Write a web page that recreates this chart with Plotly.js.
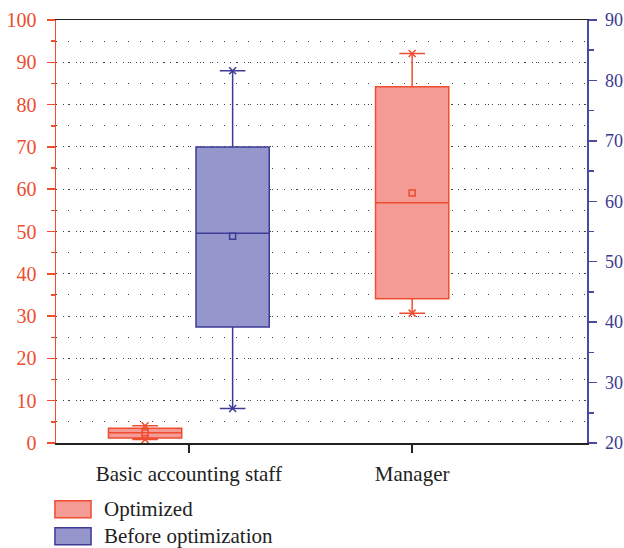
<!DOCTYPE html>
<html><head><meta charset="utf-8">
<script src="https://cdn.plot.ly/plotly-3.0.1.min.js"></script>
<style>html,body{margin:0;padding:0;background:#fff}</style>
</head><body><div id="chart" style="width:624px;height:548px"></div>
<script>
const categories = ['Basic accounting staff', 'Manager'];
const seriesNames = ['Optimized', 'Before optimization'];
// Optimized (left axis), one value per category
const optLower = [0.8, 30.7];
const optQ1 = [1.2, 34.1];
const optMedian = [2.4, 56.8];
const optQ3 = [3.5, 84.2];
const optUpper = [4.1, 92.1];
const optMean = [2.4, 59.1];
// Before optimization (right axis), Basic accounting staff only
const befLower = [25.7];
const befQ1 = [39.2];
const befMedian = [54.7];
const befQ3 = [69.0];
const befUpper = [81.6];
const befMean = [54.2];
const leftTicks = [0, 10, 20, 30, 40, 50, 60, 70, 80, 90, 100];
const rightTicks = [20, 30, 40, 50, 60, 70, 80, 90];

const RED = '#ee4d30', RED_FILL = '#f59b96';
const BLUE = '#3e3b96', BLUE_FILL = '#9596cc';
const FONT = 'Liberation Serif, Times New Roman, serif';
const soloWidth = 0.328;

function boxTrace(ci, q1, med, q3, lo, up, yaxis, color, fill, group, width) {
  const t = {
    type: 'box', x: [categories[ci]], q1: [q1], median: [med], q3: [q3],
    lowerfence: [lo], upperfence: [up], yaxis: yaxis,
    fillcolor: fill, line: {color: color, width: 1.5}, whiskerwidth: 0.35,
    boxpoints: false, offsetgroup: group, alignmentgroup: 'g', showlegend: false, hoverinfo: 'skip'
  };
  if (width) t.width = width;
  return t;
}
function markTrace(ci, vals, yaxis, color, symbol, size, group, width) {
  const t = {
    type: 'box', x: vals.map(() => categories[ci]), y: vals, yaxis: yaxis,
    boxpoints: 'all', jitter: 0, pointpos: 0,
    fillcolor: 'rgba(0,0,0,0)', line: {color: 'rgba(0,0,0,0)', width: 0}, whiskerwidth: 0,
    marker: {symbol: symbol, size: size, color: color, line: {color: color, width: 1.5}},
    offsetgroup: group, alignmentgroup: 'g', showlegend: false, hoverinfo: 'skip'
  };
  if (width) t.width = width;
  return t;
}

const data = [
  boxTrace(0, optQ1[0], optMedian[0], optQ3[0], optLower[0], optUpper[0], 'y', RED, RED_FILL, 'opt'),
  boxTrace(0, befQ1[0], befMedian[0], befQ3[0], befLower[0], befUpper[0], 'y2', BLUE, BLUE_FILL, 'bef'),
  boxTrace(1, optQ1[1], optMedian[1], optQ3[1], optLower[1], optUpper[1], 'y', RED, RED_FILL, 'opt', soloWidth),
  markTrace(0, [optLower[0], optUpper[0]], 'y', RED, 'x-thin-open', 7, 'opt'),
  markTrace(0, [optMean[0]], 'y', RED, 'square-open', 6, 'opt'),
  markTrace(0, [befLower[0], befUpper[0]], 'y2', BLUE, 'x-thin-open', 7, 'bef'),
  markTrace(0, [befMean[0]], 'y2', BLUE, 'square-open', 6, 'bef'),
  markTrace(1, [optLower[1], optUpper[1]], 'y', RED, 'x-thin-open', 7, 'opt', soloWidth),
  markTrace(1, [optMean[1]], 'y', RED, 'square-open', 6, 'opt', soloWidth)
];

const layout = {
  width: 624, height: 548,
  margin: {l: 56, r: 37, t: 20, b: 105},
  paper_bgcolor: '#fff', plot_bgcolor: '#fff',
  boxmode: 'group', boxgap: 0.216, boxgroupgap: 0.163,
  showlegend: false,
  font: {family: FONT, size: 20, color: '#222'},
  xaxis: {
    type: 'category', categoryorder: 'array', categoryarray: categories,
    range: [-0.595, 1.783], showgrid: false, zeroline: false,
    showline: true, linecolor: '#222', linewidth: 1.5, mirror: true,
    ticks: 'outside', ticklen: 8, tickwidth: 1.5, tickcolor: '#222',
    tickfont: {family: FONT, size: 21, color: '#222'}, ticklabelstandoff: 3,
    automargin: false
  },
  yaxis: {
    range: [0, 100], tickvals: leftTicks, showgrid: true,
    gridcolor: '#444', gridwidth: 1, griddash: '1px,5.7px', zeroline: false,
    showline: true, linecolor: RED, linewidth: 1.5,
    ticks: 'outside', ticklen: 8, tickwidth: 1.5, tickcolor: RED,
    tickfont: {family: FONT, size: 20, color: RED}, ticklabelstandoff: 6,
    minor: {dtick: 5, ticks: 'outside', ticklen: 4, tickwidth: 1.5, tickcolor: RED,
            showgrid: true, gridcolor: '#444', gridwidth: 1, griddash: '1px,11px'},
    automargin: false
  },
  yaxis2: {
    overlaying: 'y', side: 'right', range: [20, 90], tickvals: rightTicks,
    showgrid: false, zeroline: false,
    showline: true, linecolor: '#4b4aa0', linewidth: 1.5,
    ticks: 'outside', ticklen: 8, tickwidth: 1.5, tickcolor: '#4b4aa0',
    tickfont: {family: FONT, size: 18, color: '#3d3a8f'}, ticklabelstandoff: 5,
    minor: {dtick: 5, ticks: 'outside', ticklen: 5, tickwidth: 1.5, tickcolor: '#4b4aa0', showgrid: false},
    automargin: false
  },
  shapes: [
    {type: 'rect', xref: 'paper', yref: 'paper', x0: -0.002, x1: 0.066, y0: -0.1765, y1: -0.1364,
     fillcolor: RED_FILL, line: {color: RED, width: 1.5}},
    {type: 'rect', xref: 'paper', yref: 'paper', x0: -0.002, x1: 0.066, y0: -0.2403, y1: -0.2001,
     fillcolor: BLUE_FILL, line: {color: BLUE, width: 1.5}}
  ],
  annotations: [
    {xref: 'paper', yref: 'paper', x: 0.087, y: -0.157, xanchor: 'left', yanchor: 'middle',
     text: seriesNames[0], showarrow: false, font: {family: FONT, size: 21, color: '#222'}},
    {xref: 'paper', yref: 'paper', x: 0.087, y: -0.219, xanchor: 'left', yanchor: 'middle',
     text: seriesNames[1], showarrow: false, font: {family: FONT, size: 21, color: '#222'}}
  ]
};

Plotly.newPlot('chart', data, layout, {displayModeBar: false, staticPlot: true});
</script></body></html>
